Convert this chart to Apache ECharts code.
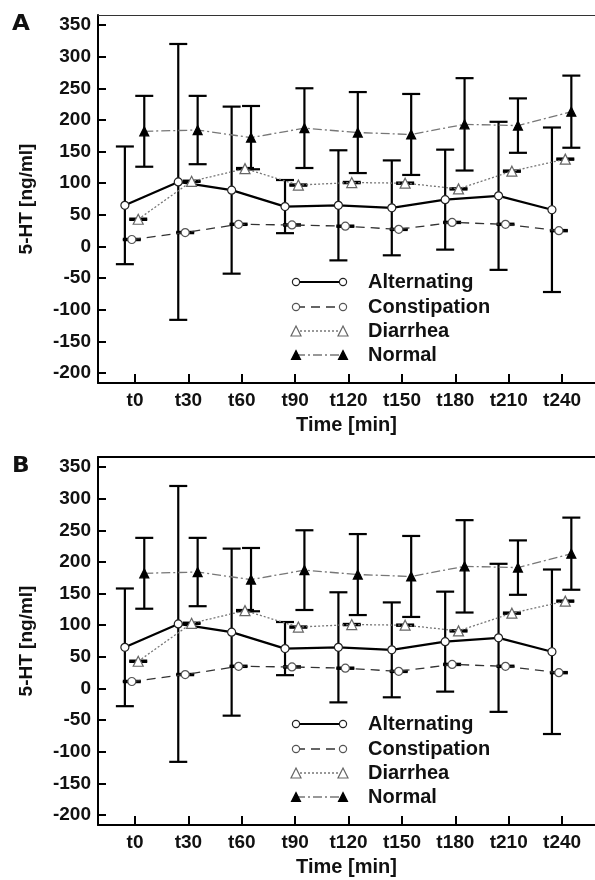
<!DOCTYPE html>
<html>
<head>
<meta charset="utf-8">
<script src="https://cdn.jsdelivr.net/npm/echarts@6/dist/echarts.min.js"></script>
<style>
html,body{margin:0;padding:0;background:#fff;}
#chart{width:595px;height:880px;}
</style>
</head>
<body>
<div id="chart"></div>
<script>
// ---- data ----
const categories = ['t0','t30','t60','t90','t120','t150','t180','t210','t240'];
const times = [0,30,60,90,120,150,180,210,240];
const yTicks = [-200,-150,-100,-50,0,50,100,150,200,250,300,350];
const groupNames = ['Alternating','Constipation','Diarrhea','Normal'];

const alternatingMean = [65,102,89,63,65,61,74,80,58];
const alternatingSD   = [93,218,132,42,87,75,79,117,130];
const constipationMean = [11,22,35,34,32,27,38,35,25];
const constipationSD   = [1,1,1,1,1,1,1,1,1];
const diarrheaMean = [43,103,123,97,101,100,91,119,138];
const diarrheaSD   = [1,1,1,1,1,1,1,1,1];
const normalMean = [182,184,172,187,180,177,193,191,213];
const normalSD   = [56,54,50,63,64,64,73,43,57];

// ---- styling / layout ----
const FONT = '"Liberation Sans", Arial, sans-serif';
const offsets = [-5.7,-1.8,1.8,5.2]; // horizontal dodge (minutes) per group
const styles = [
  {line:{color:'#000',width:2.2,type:'solid'}, symbol:'circle', size:8, fill:'#fff', border:'#222'},
  {line:{color:'#333',width:1.3,type:[9,6]}, symbol:'circle', size:8, fill:'#fff', border:'#555'},
  {line:{color:'#777',width:1.3,type:[2,2]}, symbol:'triangle', size:10, fill:'#fff', border:'#666'},
  {line:{color:'#777',width:1.3,type:[9,3,2,3]}, symbol:'triangle', size:9, fill:'#000', border:'#000'}
];
const means = [alternatingMean, constipationMean, diarrheaMean, normalMean];
const sds = [alternatingSD, constipationSD, diarrheaSD, normalSD];

const panelTops = [15, 457];
const gridH = 368;
const X_MIN = -20.8, X_MAX = 258.5, Y_MIN = -215.8, Y_MAX = 365.8;

const grids = [], xAxes = [], yAxes = [], series = [], graphics = [];

panelTops.forEach((top, p) => {
  grids.push({left:98, right:0, top:top, height:gridH});
  xAxes.push({
    gridIndex:p, type:'value', min:X_MIN, max:X_MAX,
    name:'Time [min]', nameLocation:'middle', nameGap:32,
    nameTextStyle:{fontFamily:FONT, fontWeight:'bold', fontSize:20, color:'#111'},
    axisLine:{show:true, onZero:false, lineStyle:{color:'#000', width:2}},
    axisTick:{show:true, inside:true, length:9, lineStyle:{color:'#000', width:2}, customValues:times},
    axisLabel:{show:true, margin:8, fontFamily:FONT, fontWeight:'bold', fontSize:19, color:'#111',
      customValues:times, formatter:v => categories[times.indexOf(v)]},
    splitLine:{show:false}
  });
  xAxes.push({
    gridIndex:p, type:'value', position:'top', min:X_MIN, max:X_MAX,
    axisLine:{show:true, onZero:false, lineStyle:{color:p===0?'#333':'#000', width:p===0?1:2}},
    axisTick:{show:false}, axisLabel:{show:false}, splitLine:{show:false}
  });
  yAxes.push({
    gridIndex:p, type:'value', min:Y_MIN, max:Y_MAX,
    name:'5-HT [ng/ml]', nameLocation:'middle', nameGap:62, nameRotate:90,
    nameTextStyle:{fontFamily:FONT, fontWeight:'bold', fontSize:19, color:'#111'},
    axisLine:{show:true, onZero:false, lineStyle:{color:'#000', width:2}},
    axisTick:{show:true, inside:true, length:8, lineStyle:{color:'#000', width:2}, customValues:yTicks},
    axisLabel:{show:true, margin:7, fontFamily:FONT, fontWeight:'bold', fontSize:19, color:'#111', customValues:yTicks},
    splitLine:{show:false}
  });

  groupNames.forEach((name, g) => {
    const st = styles[g];
    // error bars
    series.push({
      type:'custom', name:name + ' SD', xAxisIndex:p*2, yAxisIndex:p, z:2, silent:true,
      data: times.map((t,i) => [t + offsets[g], means[g][i] - sds[g][i], means[g][i] + sds[g][i]]),
      renderItem: (params, api) => {
        const x = api.value(0);
        const lo = api.coord([x, api.value(1)]);
        const hi = api.coord([x, api.value(2)]);
        const hw = 9;
        const s = {stroke:'#000', lineWidth:2.2};
        return {type:'group', children:[
          {type:'line', shape:{x1:hi[0], y1:hi[1], x2:lo[0], y2:lo[1]}, style:s},
          {type:'line', shape:{x1:hi[0]-hw, y1:hi[1], x2:hi[0]+hw, y2:hi[1]}, style:s},
          {type:'line', shape:{x1:lo[0]-hw, y1:lo[1], x2:lo[0]+hw, y2:lo[1]}, style:s}
        ]};
      }
    });
    // mean line
    series.push({
      type:'line', name:name, xAxisIndex:p*2, yAxisIndex:p, z:3,
      data: times.map((t,i) => [t + offsets[g], means[g][i]]),
      symbol:st.symbol, symbolSize:st.size, showAllSymbol:true,
      lineStyle:{color:st.line.color, width:st.line.width, type:st.line.type},
      itemStyle:{color:st.fill, borderColor:st.border, borderWidth:1.2},
      emphasis:{disabled:true}, animation:false
    });
  });

  // panel letter
  graphics.push({type:'text', x:12, y:top + 10, style:{text:p===0?'A':'B', font:'900 21px "DejaVu Sans"', fill:'#111', verticalAlign:'middle'}, scaleX:1.1});

  // legend (drawn as graphics so both end symbols show)
  const rowY = [282, 307, 331, 355].map(v => v + top - 15);
  groupNames.forEach((name, g) => {
    const st = styles[g];
    const y = rowY[g], x1 = 296, x2 = 343;
    graphics.push({type:'line', shape:{x1:x1, y1:y, x2:x2, y2:y},
      style:{stroke:st.line.color, lineWidth:st.line.width, lineDash:Array.isArray(st.line.type)?st.line.type:null}});
    [x1, x2].forEach(cx => {
      if (st.symbol === 'circle') {
        graphics.push({type:'circle', shape:{cx:cx, cy:y, r:3.6}, style:{fill:st.fill, stroke:st.border, lineWidth:1.2}});
      } else {
        const h = st.size;
        graphics.push({type:'polygon', shape:{points:[[cx, y-h/2],[cx+h/2, y+h/2],[cx-h/2, y+h/2]]},
          style:{fill:st.fill, stroke:st.border, lineWidth:1.2}});
      }
    });
    graphics.push({type:'text', x:368, y:y, style:{text:name, fontFamily:FONT, fontWeight:'bold', fontSize:20, fill:'#111', verticalAlign:'middle'}});
  });
});

const chart = echarts.init(document.getElementById('chart'), null, {renderer:'canvas'});
chart.setOption({
  animation:false,
  backgroundColor:'#fff',
  grid:grids, xAxis:xAxes, yAxis:yAxes, series:series, graphic:graphics
});
</script>
</body>
</html>
